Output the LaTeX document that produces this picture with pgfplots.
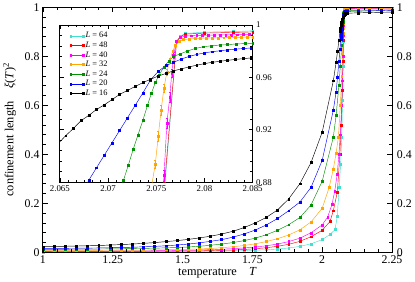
\documentclass[border=0pt]{standalone}
\usepackage{fontspec}
\setmainfont{Liberation Serif}
\usepackage{pgfplots}
\usepackage{pgfplotstable}
\pgfplotsset{compat=1.18}
\definecolor{cL64}{RGB}{64,224,208}
\definecolor{cL48}{RGB}{255,0,0}
\definecolor{cL40}{RGB}{255,0,255}
\definecolor{cL32}{RGB}{255,165,0}
\definecolor{cL24}{RGB}{0,145,0}
\definecolor{cL20}{RGB}{0,0,255}
\definecolor{cL16}{RGB}{0,0,0}

\pgfplotstableread{
T y
1.00 0.0025
1.08 0.0026
1.16 0.0028
1.24 0.0030
1.32 0.0032
1.40 0.0035
1.48 0.0039
1.56 0.0044
1.60 0.0048
1.64 0.0053
1.68 0.0060
1.72 0.0071
1.76 0.0087
1.80 0.0108
1.84 0.0137
1.88 0.0180
1.92 0.0245
1.96 0.0350
2.00 0.0520
2.028 0.0730
2.046 0.0930
2.054 0.1460
2.061 0.2670
2.066 0.3600
2.070 0.4700
2.073 0.6200
2.0750 0.7600
2.0757 0.8600
2.0771 0.9875
2.0775 0.9915
2.0780 0.9935
2.0800 0.9945
2.0830 0.9950
2.0850 0.9955
2.09 0.9960
2.13 0.9968
2.17 0.9973
2.21 0.9977
2.25 0.9980
}\tabA
\pgfplotstableread{
T y
1.00 0.0035
1.08 0.0037
1.16 0.0039
1.24 0.0041
1.32 0.0044
1.40 0.0048
1.48 0.0055
1.56 0.0065
1.60 0.0073
1.64 0.0084
1.68 0.0099
1.72 0.0120
1.76 0.0150
1.80 0.0190
1.84 0.0250
1.88 0.0330
1.92 0.0450
1.96 0.0640
2.00 0.0900
2.028 0.1260
2.040 0.1700
2.0545 0.2470
2.0634 0.4000
2.068 0.5200
2.072 0.6600
2.0745 0.7800
2.0757 0.8650
2.0771 0.9875
2.0775 0.9910
2.0780 0.9930
2.0800 0.9938
2.0830 0.9943
2.0850 0.9947
2.09 0.9950
2.13 0.9958
2.17 0.9963
2.21 0.9967
2.25 0.9970
}\tabB
\pgfplotstableread{
T y e
1.00 0.0050 0
1.04 0.0051 0
1.08 0.0052 0
1.12 0.0053 0
1.16 0.0054 0
1.20 0.0056 0
1.24 0.0058 0
1.28 0.0060 0
1.32 0.0063 0
1.36 0.0066 0
1.40 0.0070 0
1.44 0.0075 0
1.48 0.0082 0
1.52 0.0090 0
1.56 0.0100 0
1.60 0.0113 0
1.64 0.0130 0
1.68 0.0152 0
1.72 0.0180 0
1.76 0.0220 0
1.80 0.0270 0
1.84 0.0340 0
1.88 0.0440 0
1.92 0.0580 0
1.96 0.0800 0
2.00 0.1120 0
2.02 0.1450 0
2.035 0.1950 0
2.045 0.2500 0
2.054 0.3200 0
2.060 0.4000 0
2.065 0.4800 0
2.070 0.6000 0
2.073 0.7000 0
2.0750 0.8000 0
2.0758 0.8850 0.004
2.0761 0.9250 0.004
2.0764 0.9450 0.004
2.0766 0.9630 0.003
2.0768 0.9770 0.002
2.0771 0.9875 0.001
2.0775 0.9905 0
2.0780 0.9915 0
2.0786 0.9918 0
2.0792 0.9920 0
2.0798 0.9921 0
2.0804 0.9922 0
2.0810 0.9923 0
2.0816 0.9924 0
2.0822 0.9925 0
2.0828 0.9925 0
2.0834 0.9926 0
2.0840 0.9927 0
2.0846 0.9927 0
2.0852 0.9928 0
2.09 0.9930 0
2.13 0.9940 0
2.17 0.9948 0
2.21 0.9954 0
2.25 0.9960 0
}\tabC
\pgfplotstableread{
T y e
1.00 0.0080 0
1.04 0.0081 0
1.08 0.0082 0
1.12 0.0083 0
1.16 0.0084 0
1.20 0.0086 0
1.24 0.0088 0
1.28 0.0090 0
1.32 0.0093 0
1.36 0.0097 0
1.40 0.0102 0
1.44 0.0108 0
1.48 0.0116 0
1.52 0.0127 0
1.56 0.0141 0
1.60 0.0160 0
1.64 0.0190 0
1.68 0.0230 0
1.72 0.0280 0
1.76 0.0350 0
1.80 0.0440 0
1.84 0.0560 0
1.88 0.0710 0
1.92 0.0920 0
1.96 0.1240 0
2.00 0.1800 0
2.025 0.2650 0
2.040 0.3400 0
2.050 0.4050 0
2.058 0.4700 0
2.065 0.6000 0
2.070 0.7200 0
2.073 0.8100 0
2.0749 0.8940 0.003
2.0752 0.9150 0.004
2.0755 0.9350 0.004
2.0758 0.9520 0.003
2.0761 0.9640 0.002
2.0764 0.9730 0.0015
2.0767 0.9800 0.001
2.0770 0.9845 0.001
2.0774 0.9875 0
2.0778 0.9888 0
2.0784 0.9893 0
2.0790 0.9896 0
2.0796 0.9898 0
2.0802 0.9900 0
2.0808 0.9901 0
2.0814 0.9902 0
2.0820 0.9903 0
2.0826 0.9904 0
2.0832 0.9905 0
2.0838 0.9906 0
2.0844 0.9907 0
2.0850 0.9908 0
2.09 0.9910 0
2.13 0.9920 0
2.17 0.9928 0
2.21 0.9934 0
2.25 0.9940 0
}\tabD
\pgfplotstableread{
T y
1.00 0.0120
1.04 0.0123
1.08 0.0126
1.12 0.0130
1.16 0.0133
1.20 0.0137
1.24 0.0142
1.28 0.0148
1.32 0.0155
1.36 0.0163
1.40 0.0173
1.44 0.0185
1.48 0.0200
1.52 0.0222
1.56 0.0250
1.60 0.0290
1.64 0.0340
1.68 0.0400
1.72 0.0480
1.76 0.0580
1.80 0.0720
1.84 0.0900
1.88 0.1130
1.92 0.1420
1.96 0.1930
2.00 0.2900
2.04 0.4700
2.05 0.5600
2.06 0.6800
2.065 0.7600
2.070 0.8450
2.0716 0.8815
2.0721 0.8930
2.0726 0.9050
2.0731 0.9160
2.0736 0.9270
2.0741 0.9390
2.0745 0.9480
2.0749 0.9560
2.0753 0.9620
2.0758 0.9680
2.0763 0.9726
2.0768 0.9760
2.0775 0.9780
2.0782 0.9800
2.0790 0.9820
2.0799 0.9834
2.0807 0.9841
2.0816 0.9847
2.0824 0.9850
2.0833 0.9855
2.0842 0.9858
2.0850 0.9860
2.09 0.9865
2.13 0.9873
2.17 0.9880
2.21 0.9885
2.25 0.9890
}\tabE
\pgfplotstableread{
T y
1.00 0.0160
1.04 0.0163
1.08 0.0167
1.12 0.0171
1.16 0.0176
1.20 0.0182
1.24 0.0190
1.28 0.0200
1.32 0.0212
1.36 0.0227
1.40 0.0245
1.44 0.0270
1.48 0.0300
1.52 0.0340
1.56 0.0390
1.60 0.0450
1.64 0.0520
1.68 0.0620
1.72 0.0750
1.76 0.0910
1.80 0.1120
1.84 0.1380
1.88 0.1700
1.92 0.2050
1.96 0.2650
2.00 0.3750
2.04 0.5800
2.05 0.6550
2.055 0.7150
2.060 0.7800
2.064 0.8300
2.0672 0.8700
2.0680 0.8815
2.0688 0.8910
2.0696 0.9005
2.0704 0.9100
2.0712 0.9195
2.0720 0.9290
2.0728 0.9385
2.0736 0.9480
2.0744 0.9580
2.0752 0.9645
2.0760 0.9690
2.0768 0.9715
2.0776 0.9740
2.0784 0.9760
2.0792 0.9775
2.0800 0.9787
2.0808 0.9796
2.0816 0.9803
2.0824 0.9810
2.0832 0.9815
2.0840 0.9820
2.0848 0.9824
2.0856 0.9826
2.09 0.9830
2.13 0.9840
2.17 0.9850
2.21 0.9860
2.25 0.9870
}\tabF
\pgfplotstableread{
T y
1.00 0.0230
1.04 0.0240
1.08 0.0250
1.12 0.0260
1.16 0.0270
1.20 0.0280
1.24 0.0300
1.28 0.0320
1.32 0.0340
1.36 0.0370
1.40 0.0400
1.44 0.0440
1.48 0.0480
1.52 0.0530
1.56 0.0590
1.60 0.0660
1.64 0.0750
1.68 0.0860
1.72 0.1010
1.76 0.1200
1.80 0.1430
1.84 0.1730
1.88 0.2180
1.92 0.2800
1.96 0.3660
2.00 0.4900
2.04 0.7000
2.05 0.7750
2.055 0.8200
2.060 0.8650
2.064 0.9030
2.0656 0.9155
2.0664 0.9210
2.0672 0.9270
2.0680 0.9310
2.0688 0.9355
2.0696 0.9390
2.0704 0.9430
2.0712 0.9470
2.0720 0.9500
2.0728 0.9530
2.0736 0.9560
2.0744 0.9585
2.0752 0.9610
2.0760 0.9630
2.0768 0.9650
2.0776 0.9665
2.0784 0.9680
2.0792 0.9693
2.0800 0.9705
2.0808 0.9715
2.0816 0.9723
2.0824 0.9730
2.0832 0.9737
2.0840 0.9743
2.0848 0.9748
2.0856 0.9750
2.09 0.9755
2.13 0.9770
2.17 0.9780
2.21 0.9790
2.25 0.9800
}\tabG

\pgfplotsset{
  common/.style={
    scale only axis, tick align=inside,
    scaled ticks=false,
    /pgf/number format/assume math mode=true,
    /pgf/number format/fixed,
    every tick/.style={black, line width=0.6pt},
    axis line style={line width=0.9pt},
  },
  ser/.style={#1, line width=0.45pt, mark=square*, mark size=0.95pt, mark options={solid}},
}

\begin{document}
\begin{tikzpicture}
\begin{axis}[common,
  width=353bp, height=248bp,
  xmin=1, xmax=2.25, ymin=0, ymax=1,
  xtick={1,1.25,1.5,1.75,2,2.25},
  ytick={0,0.2,0.4,0.6,0.8,1},
  /pgf/number format/precision=2,
  minor x tick num=4, minor y tick num=4,
  major tick length=5bp, minor tick length=3bp,
  ticklabel style={font=\fontsize{12}{13}\selectfont},
  label style={font=\fontsize{12.5}{14}\selectfont},
  xlabel={temperature\quad \textit{T}},
  ylabel={confinement length\quad \textit{ξ}(\textit{T})\textsuperscript{2}},
  xlabel style={yshift=3bp},
  ylabel style={yshift=2bp},
]
\addplot[ser=cL64] table[x=T,y=y]{\tabA};
\addplot[ser=cL48] table[x=T,y=y]{\tabB};
\addplot[ser=cL40] table[x=T,y=y]{\tabC};
\addplot[ser=cL32] table[x=T,y=y]{\tabD};
\addplot[ser=cL24] table[x=T,y=y]{\tabE};
\addplot[ser=cL20] table[x=T,y=y]{\tabF};
\addplot[ser=cL16] table[x=T,y=y]{\tabG};
\end{axis}
\begin{axis}[common,
  width=353bp, height=248bp,
  xmin=1, xmax=2.25, ymin=0, ymax=1,
  xtick={1,1.25,1.5,1.75,2,2.25}, xticklabels={},
  ytick={0,0.2,0.4,0.6,0.8,1},
  /pgf/number format/precision=2,
  yticklabel pos=right,
  minor x tick num=4, minor y tick num=4,
  major tick length=5bp, minor tick length=3bp,
  ticklabel style={font=\fontsize{12}{13}\selectfont},
  yticklabel style={xshift=1.5bp},
]
\end{axis}
\begin{axis}[common,
  at={(17bp,71bp)}, anchor=south west,
  width=195bp, height=159bp,
  xmin=2.065, xmax=2.085, ymin=0.88, ymax=1,
  xtick={2.065,2.07,2.075,2.08,2.085},
  ytick={0.88,0.92,0.96,1},
  /pgf/number format/precision=3,
  yticklabel pos=right,
  minor x tick num=5, minor y tick num=4,
  major tick length=4bp, minor tick length=2.5bp,
  axis line style={line width=0.8pt},
  axis background/.style={fill=white},
  ticklabel style={font=\fontsize{9}{10}\selectfont},
  legend style={at={(0.035,0.975)}, anchor=north west, draw=none, fill=none,
    font=\fontsize{8.5}{9.5}\selectfont, row sep=0pt,
    nodes={inner sep=1.3pt}},
  legend cell align=left,
  legend image code/.code={\draw[#1] plot coordinates {(0cm,0cm) (0.45cm,0cm)};},
]
\addplot[ser=cL64] table[x=T,y=y]{\tabA};
\addlegendentry{\textit{L} = 64}
\addplot[ser=cL48] table[x=T,y=y]{\tabB};
\addlegendentry{\textit{L} = 48}
\addplot[ser=cL40, error bars/.cd, y dir=both, y explicit] table[x=T,y=y,y error=e]{\tabC};
\addlegendentry{\textit{L} = 40}
\addplot[ser=cL32, error bars/.cd, y dir=both, y explicit] table[x=T,y=y,y error=e]{\tabD};
\addlegendentry{\textit{L} = 32}
\addplot[ser=cL24] table[x=T,y=y]{\tabE};
\addlegendentry{\textit{L} = 24}
\addplot[ser=cL20] table[x=T,y=y]{\tabF};
\addlegendentry{\textit{L} = 20}
\addplot[ser=cL16] table[x=T,y=y]{\tabG};
\addlegendentry{\textit{L} = 16}
\end{axis}
\end{tikzpicture}
\end{document}
